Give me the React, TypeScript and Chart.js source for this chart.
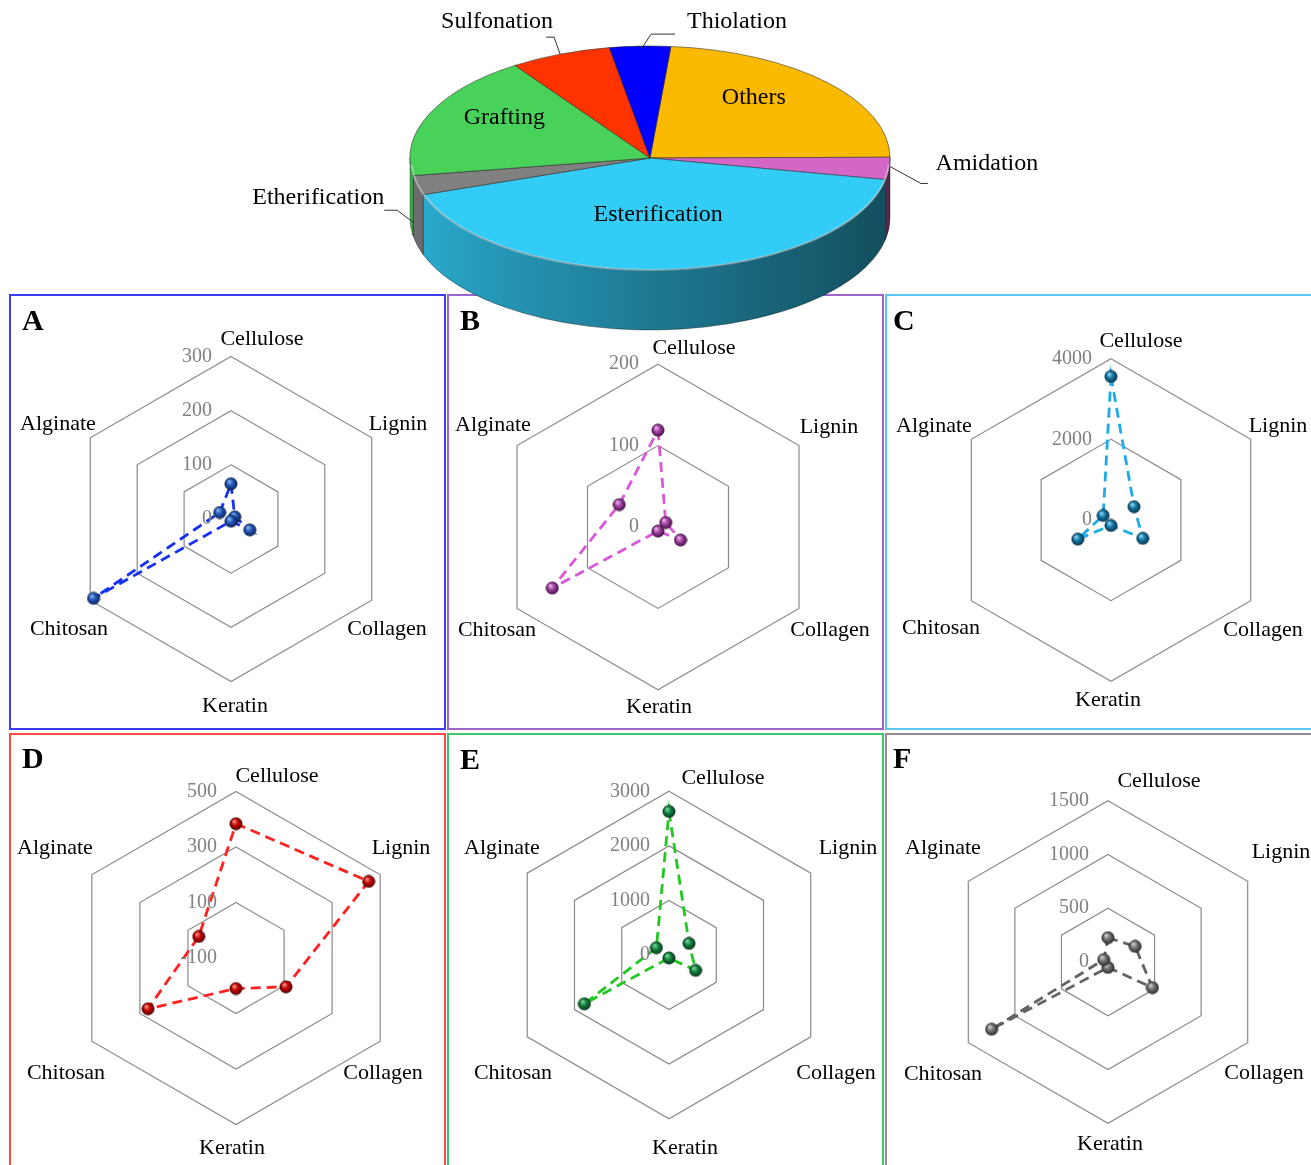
import React, { useEffect, useRef } from "react";
import { Chart, registerables } from "chart.js";
Chart.register(...registerables);

// ---------- DATA ----------
const PIE_LABELS = ["Others", "Amidation", "Esterification", "Etherification", "Grafting", "Sulfonation", "Thiolation"];
const PIE_VALUES = [23.5, 3.2, 41.6, 2.8, 18.0, 6.8, 4.1];

const AXES = ["Cellulose", "Lignin", "Collagen", "Keratin", "Chitosan", "Alginate"];

const A_VALUES = [65, 8, 40, 4, 293, 24];
const A_TICKS = [0, 100, 200, 300];
const B_VALUES = [119, 11, 32, 5, 150, 55];
const B_TICKS = [0, 100, 200];
const C_VALUES = [3560, 660, 910, 135, 950, 225];
const C_TICKS = [0, 2000, 4000];
const D_VALUES = [384, 452, 108, 10, 266, 55];
const D_TICKS = [-100, 100, 300, 500];
const E_VALUES = [2630, 424, 563, 55, 1790, 266];
const E_TICKS = [0, 1000, 2000, 3000];
const F_VALUES = [226, 291, 477, 50, 1250, 45];
const F_TICKS = [0, 500, 1000, 1500];

// ---------- STYLE ----------
const SERIF = '"Liberation Serif", "Times New Roman", serif';
const PIE_COLORS = ["#FBBA00", "#D466C8", "#33CCF7", "#808080", "#48D259", "#FF3300", "#0000FF"];
const PIE_LABEL_STYLE: any[] = [
  { inner: true, f: 0.6, nudge: [-2, -15] },
  { anchor: [1, -2], elbow: [31, 17], hx: 7, text: [59, -20] },
  { inner: true, f: 0.55, nudge: [-1, -5] },
  { anchor: [-3, 38], elbow: [-17, -13], hx: -13, text: [-66, -13] },
  { inner: true, f: 0.67, nudge: [2, -11] },
  { anchor: [0, 0], elbow: [-6, -17], hx: -8, text: [-49, -15] },
  { anchor: [2, 2], elbow: [9, -14], hx: 24, text: [62, -12] },
];

const PANELS = [
  { letter: "A", values: A_VALUES, ticks: A_TICKS, center: [231, 519], hexR: 162.5, box: [9, 294, 437, 436], border: "#3b3bf2", line: "#1530f0", sphere: ["#8fb4f0", "#1f55b5", "#0a1d4d"], letterPos: [22, 305], labelOffsets: [[31, -180], [167, -95], [156, 110], [4, 187], [-162, 110], [-173, -95]] },
  { letter: "B", values: B_VALUES, ticks: B_TICKS, center: [658, 527], hexR: 162.8, box: [447, 294, 437, 436], border: "#9a66cc", line: "#d858d8", sphere: ["#f0b0f0", "#9c3f9c", "#3d0c3d"], letterPos: [460, 305], labelOffsets: [[36, -179], [171, -100], [172, 103], [1, 180], [-161, 103], [-165, -102]] },
  { letter: "C", values: C_VALUES, ticks: C_TICKS, center: [1111, 520], hexR: 161.3, box: [885, 294, 440, 436], border: "#5cc6f0", line: "#1eaae8", sphere: ["#8ad8f5", "#11739f", "#052c44"], letterPos: [893, 305], labelOffsets: [[30, -179], [167, -94], [152, 110], [-3, 180], [-170, 108], [-177, -94]] },
  { letter: "D", values: D_VALUES, ticks: D_TICKS, center: [236, 958], hexR: 166.5, box: [9, 733, 437, 440], border: "#ff4848", line: "#ff2020", sphere: ["#ff9090", "#c40000", "#450000"], letterPos: [22, 743], labelOffsets: [[41, -182], [165, -110], [147, 115], [-4, 190], [-170, 115], [-181, -110]] },
  { letter: "E", values: E_VALUES, ticks: E_TICKS, center: [669, 955], hexR: 163.7, box: [447, 733, 437, 440], border: "#3cc46e", line: "#22c822", sphere: ["#7ad89a", "#10803e", "#042c14"], letterPos: [460, 744], labelOffsets: [[54, -177], [179, -107], [167, 118], [16, 193], [-156, 118], [-167, -107]] },
  { letter: "F", values: F_VALUES, ticks: F_TICKS, center: [1108, 962], hexR: 161.3, box: [885, 733, 440, 440], border: "#8e8e8e", line: "#636363", sphere: ["#d0d0d0", "#6e6e6e", "#262626"], letterPos: [893, 743], labelOffsets: [[51, -181], [173, -110], [156, 111], [2, 182], [-165, 112], [-165, -114]] },
];

function shade(hex: string, f: number) {
  const n = parseInt(hex.slice(1), 16);
  const r = Math.round(((n >> 16) & 255) * f);
  const g = Math.round(((n >> 8) & 255) * f);
  const b = Math.round((n & 255) * f);
  return `rgb(${r},${g},${b})`;
}

function makeSphere(cols: string[]) {
  const c = document.createElement("canvas");
  c.width = 14;
  c.height = 14;
  const g = c.getContext("2d")!;
  const grad = g.createRadialGradient(5, 4.5, 0.4, 7, 7, 7);
  grad.addColorStop(0, cols[0]);
  grad.addColorStop(0.45, cols[1]);
  grad.addColorStop(1, cols[2]);
  g.beginPath();
  g.arc(7, 7, 6.1, 0, Math.PI * 2);
  g.fillStyle = grad;
  g.fill();
  g.lineWidth = 0.8;
  g.strokeStyle = cols[2];
  g.stroke();
  return c;
}

const S = 460;

function RadarPanel({ cfg }: { cfg: any }) {
  const ref = useRef<HTMLCanvasElement>(null);
  useEffect(() => {
    const min = cfg.ticks[0];
    const top = cfg.ticks[cfg.ticks.length - 1];
    const maxP = min + ((top - min) * (S / 2)) / cfg.hexR;
    const sphere = makeSphere(cfg.sphere);
    const textPlugin = {
      id: "radarText",
      afterDraw(chart: any) {
        const s = chart.scales.r;
        const ctx = chart.ctx;
        ctx.save();
        ctx.font = `20px ${SERIF}`;
        ctx.fillStyle = "#808080";
        ctx.textAlign = "right";
        ctx.textBaseline = "middle";
        cfg.ticks.forEach((v: number) => {
          const p = s.getPointPositionForValue(0, v);
          ctx.fillText(String(v), p.x - 19, p.y);
        });
        ctx.font = `22px ${SERIF}`;
        ctx.fillStyle = "#000";
        ctx.textAlign = "center";
        AXES.forEach((name, i) => {
          const [dx, dy] = cfg.labelOffsets[i];
          ctx.fillText(name, s.xCenter + dx, s.yCenter + dy);
        });
        ctx.restore();
      },
    };
    const chart = new Chart(ref.current!, {
      type: "radar",
      data: {
        labels: AXES,
        datasets: [
          {
            data: cfg.values,
            borderColor: cfg.line,
            borderWidth: 2.8,
            borderDash: [10, 6],
            fill: false,
            tension: 0,
            pointStyle: sphere as any,
            pointRadius: 6,
          },
        ],
      },
      options: {
        responsive: false,
        animation: false,
        devicePixelRatio: 1,
        events: [],
        layout: { padding: 0 },
        plugins: { legend: { display: false }, tooltip: { enabled: false } },
        scales: {
          r: {
            min,
            max: maxP,
            angleLines: { display: false },
            pointLabels: { display: false },
            ticks: { display: false, stepSize: cfg.ticks[1] - cfg.ticks[0] },
            grid: { color: "#8a8a8a", lineWidth: 1.2 },
            afterBuildTicks: (sc: any) => {
              sc.ticks = cfg.ticks.map((v: number) => ({ value: v }));
            },
          } as any,
        },
      },
      plugins: [textPlugin],
    });
    return () => chart.destroy();
  }, []);
  return (
    <canvas
      ref={ref}
      width={S}
      height={S}
      style={{ position: "absolute", left: cfg.center[0] - S / 2, top: cfg.center[1] - S / 2, width: S, height: S }}
    />
  );
}

function PieChart() {
  const ref = useRef<HTMLCanvasElement>(null);
  useEffect(() => {
    const K = 112 / 240;
    const T = 60;
    const pie3d = {
      id: "pie3d",
      beforeDatasetsDraw(chart: any) {
        const ctx = chart.ctx;
        const els = chart.getDatasetMeta(0).data;
        if (!els.length) return;
        const { x: cx, y: cy, outerRadius: R } = els[0].getProps(["x", "y", "outerRadius"], true);
        els.forEach((el: any, i: number) => {
          const p = el.getProps(["startAngle", "endAngle"], true);
          for (const shift of [-2 * Math.PI, 0, 2 * Math.PI]) {
            const a1 = Math.max(p.startAngle + shift, 0);
            const a2 = Math.min(p.endAngle + shift, Math.PI);
            if (a2 <= a1) continue;
            const col = PIE_COLORS[i];
            const g = ctx.createLinearGradient(cx - R, 0, cx + R, 0);
            g.addColorStop(0, shade(col, 0.85));
            g.addColorStop(0.15, shade(col, 0.75));
            g.addColorStop(0.6, shade(col, 0.55));
            g.addColorStop(1, shade(col, 0.38));
            ctx.beginPath();
            ctx.ellipse(cx, cy, R, K * R, 0, a1, a2, false);
            ctx.ellipse(cx, cy + T, R, K * R, 0, a2, a1, true);
            ctx.closePath();
            ctx.fillStyle = g;
            ctx.fill();
            ctx.lineWidth = 1;
            ctx.strokeStyle = "rgba(0,0,0,0.35)";
            ctx.stroke();
          }
        });
        ctx.save();
        ctx.translate(cx, cy);
        ctx.scale(1, K);
        ctx.translate(-cx, -cy);
      },
      afterDatasetsDraw(chart: any) {
        const ctx = chart.ctx;
        ctx.restore();
        const els = chart.getDatasetMeta(0).data;
        if (!els.length) return;
        const { x: cx, y: cy, outerRadius: R } = els[0].getProps(["x", "y", "outerRadius"], true);
        ctx.save();
        ctx.beginPath();
        ctx.ellipse(cx, cy + 1, R - 1, K * R - 1, 0, 0.05, Math.PI - 0.05);
        ctx.strokeStyle = "rgba(255,255,255,0.4)";
        ctx.lineWidth = 2;
        ctx.stroke();
        ctx.restore();
        ctx.save();
        ctx.font = `24px ${SERIF}`;
        ctx.fillStyle = "#000";
        ctx.textAlign = "center";
        ctx.textBaseline = "middle";
        ctx.strokeStyle = "#333";
        ctx.lineWidth = 1;
        els.forEach((el: any, i: number) => {
          const p = el.getProps(["startAngle", "endAngle"], true);
          const m = (p.startAngle + p.endAngle) / 2;
          const st = PIE_LABEL_STYLE[i];
          if (st.inner) {
            const x = cx + st.f * R * Math.cos(m) + st.nudge[0];
            const y = cy + st.f * K * R * Math.sin(m) + st.nudge[1];
            ctx.fillText(PIE_LABELS[i], x, y);
          } else {
            const ax = cx + R * Math.cos(m) + st.anchor[0];
            const ay = cy + K * R * Math.sin(m) + st.anchor[1];
            const ex = ax + st.elbow[0];
            const ey = ay + st.elbow[1];
            const hx = ex + st.hx;
            ctx.beginPath();
            ctx.moveTo(ax, ay);
            ctx.lineTo(ex, ey);
            ctx.lineTo(hx, ey);
            ctx.stroke();
            ctx.fillText(PIE_LABELS[i], hx + st.text[0], ey + st.text[1]);
          }
        });
        ctx.restore();
      },
    };
    const chart = new Chart(ref.current!, {
      type: "pie",
      data: {
        labels: PIE_LABELS,
        datasets: [
          {
            data: PIE_VALUES,
            backgroundColor: PIE_COLORS,
            borderColor: "rgba(40,40,40,0.75)",
            borderWidth: 1,
            radius: 240,
            rotation: 5,
            clip: false,
          } as any,
        ],
      },
      options: {
        responsive: false,
        animation: false,
        devicePixelRatio: 1,
        events: [],
        radius: 240,
        rotation: 5,
        layout: { padding: { left: 0, top: 0, right: 11, bottom: 29 } },
        plugins: { legend: { display: false }, tooltip: { enabled: false } },
      } as any,
      plugins: [pie3d],
    });
    return () => chart.destroy();
  }, []);
  return (
    <canvas
      ref={ref}
      width={1311}
      height={345}
      style={{ position: "absolute", left: 0, top: 0, width: 1311, height: 345, zIndex: 10 }}
    />
  );
}

export default function App() {
  return (
    <div style={{ position: "fixed", left: 0, top: 0, width: 1311, height: 1165, background: "#fff", overflow: "hidden" }}>
      {PANELS.map((p) => (
        <div
          key={"b" + p.letter}
          style={{
            position: "absolute",
            left: p.box[0],
            top: p.box[1],
            width: p.box[2],
            height: p.box[3],
            border: `2px solid ${p.border}`,
            boxSizing: "border-box",
          }}
        />
      ))}
      {PANELS.map((p) => (
        <RadarPanel key={"r" + p.letter} cfg={p} />
      ))}
      {PANELS.map((p) => (
        <div
          key={"l" + p.letter}
          style={{
            position: "absolute",
            left: p.letterPos[0],
            top: p.letterPos[1],
            font: `bold 30px ${SERIF}`,
            lineHeight: "30px",
            color: "#000",
          }}
        >
          {p.letter}
        </div>
      ))}
      <PieChart />
    </div>
  );
}
